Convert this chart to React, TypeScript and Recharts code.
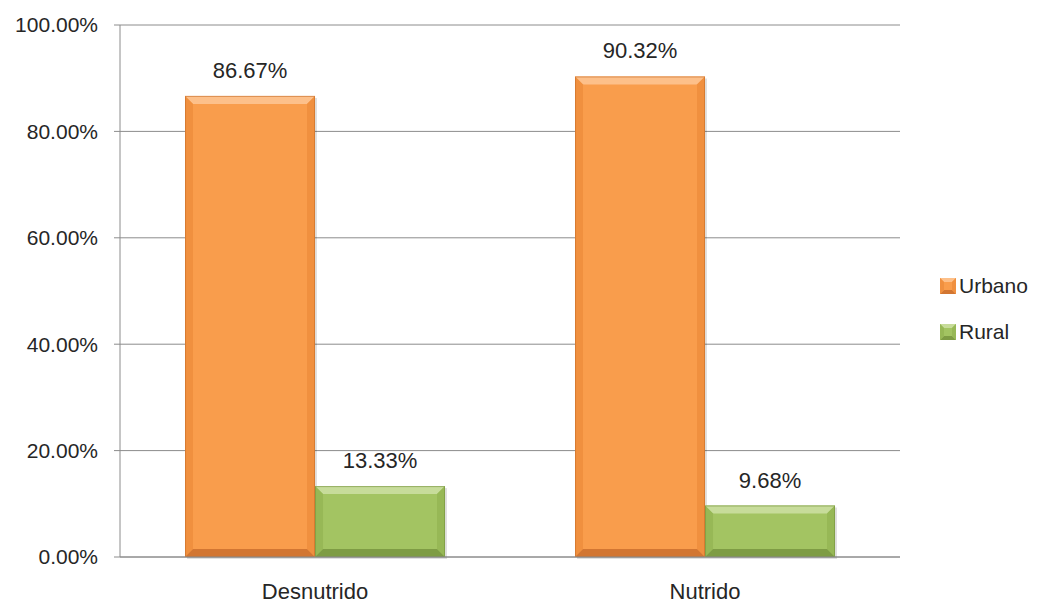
import React from "react";
import { BarChart, Bar, XAxis, YAxis, CartesianGrid, LabelList, Legend } from "recharts";

const categories = ["Desnutrido", "Nutrido"];
const urbano = [86.67, 90.32];
const rural = [13.33, 9.68];
const yTicks = [0, 20, 40, 60, 80, 100];
const seriesNames = ["Urbano", "Rural"];

const data = categories.map((c, i) => ({ name: c, Urbano: urbano[i], Rural: rural[i] }));

const palettes: Record<string, { base: string; top: string; side: string; bottom: string; edge: string }> = {
  Urbano: { base: "#F99D4C", top: "#FDC08A", side: "#F0903F", bottom: "#D27632", edge: "#C66C2A" },
  Rural: { base: "#A3C462", top: "#C7DC9A", side: "#97B856", bottom: "#7E9C44", edge: "#76933D" },
};

const BevelBar = (props: any) => {
  const { x, y, width, height, dataKey } = props;
  const p = palettes[dataKey] || palettes.Urbano;
  if (!height || height <= 0) return null;
  const b = Math.min(8, height / 2, width / 2);
  const r = x + width;
  const bt = y + height;
  return (
    <g>
      <rect x={x + 2} y={y + 2} width={width} height={height} fill="rgba(0,0,0,0.12)" />
      <rect x={x} y={y} width={width} height={height} fill={p.base} />
      <polygon points={`${x},${y} ${r},${y} ${r - b},${y + b} ${x + b},${y + b}`} fill={p.top} />
      <polygon points={`${x},${y} ${x + b},${y + b} ${x + b},${bt - b} ${x},${bt}`} fill={p.side} />
      <polygon points={`${r},${y} ${r},${bt} ${r - b},${bt - b} ${r - b},${y + b}`} fill={p.side} />
      <polygon points={`${x},${bt} ${x + b},${bt - b} ${r - b},${bt - b} ${r},${bt}`} fill={p.bottom} />
      <rect x={x + 0.5} y={y + 0.5} width={width - 1} height={height - 1} fill="none" stroke={p.edge} strokeWidth={1} strokeOpacity={0.6} />
    </g>
  );
};

const LegendContent = () => (
  <div style={{ fontFamily: "Liberation Sans, Arial, sans-serif", fontSize: 21, color: "#262626" }}>
    {seriesNames.map((n) => {
      const p = palettes[n];
      return (
        <div key={n} style={{ display: "flex", alignItems: "center", height: 46 }}>
          <svg width={16} height={16} style={{ marginRight: 3 }}>
            <rect x={0} y={0} width={16} height={16} fill={p.base} />
            <polygon points="0,0 16,0 12,4 4,4" fill={p.top} />
            <polygon points="0,16 4,12 12,12 16,16" fill={p.bottom} />
            <polygon points="0,0 4,4 4,12 0,16" fill={p.side} />
            <polygon points="16,0 16,16 12,12 12,4" fill={p.side} />
          </svg>
          <span>{n}</span>
        </div>
      );
    })}
  </div>
);

export default function App() {
  const font = "Liberation Sans, Arial, sans-serif";
  return (
    <div style={{ position: "absolute", left: 0, top: 0, width: 1039, height: 603, background: "#fff" }}>
      <BarChart
        width={1039}
        height={603}
        data={data}
        margin={{ top: 25, right: 139, left: 0, bottom: 16 }}
        barCategoryGap="16.67%"
        barGap={0}
      >
        <CartesianGrid vertical={false} stroke="#8C8C8C" strokeWidth={1} />
        <XAxis
          xAxisId="grid"
          type="number"
          domain={[0, 2]}
          ticks={[0, 1, 2]}
          height={0}
          axisLine={false}
          tickSize={10}
          tickLine={{ stroke: "#8C8C8C" }}
          tickFormatter={() => ""}
        />
        <XAxis
          dataKey="name"
          height={30}
          tickLine={false}
          axisLine={{ stroke: "#8C8C8C" }}
          tickSize={6}
          tickMargin={20}
          fontSize={22}
          tick={{ fontFamily: font, fontSize: 22, fill: "#262626" }}
        />
        <YAxis
          width={120}
          domain={[0, 100]}
          ticks={yTicks}
          tickFormatter={(v: number) => v.toFixed(2) + "%"}
          axisLine={{ stroke: "#8C8C8C" }}
          tickLine={{ stroke: "#8C8C8C" }}
          tickSize={6}
          tickMargin={16}
          fontSize={21}
          tick={{ fontFamily: font, fontSize: 21, fill: "#262626" }}
        />
        <Legend
          layout="vertical"
          align="center"
          verticalAlign="middle"
          wrapperStyle={{ left: 940, top: 263, width: 99 }}
          content={<LegendContent />}
        />
        <Bar dataKey="Urbano" fill="#F99D4C" shape={<BevelBar />} isAnimationActive={false}>
          <LabelList
            dataKey="Urbano"
            position="top"
            offset={18}
            formatter={(v: any) => Number(v).toFixed(2) + "%"}
            style={{ fontFamily: font, fontSize: 22, fill: "#262626" }}
          />
        </Bar>
        <Bar dataKey="Rural" fill="#A3C462" shape={<BevelBar />} isAnimationActive={false}>
          <LabelList
            dataKey="Rural"
            position="top"
            offset={18}
            formatter={(v: any) => Number(v).toFixed(2) + "%"}
            style={{ fontFamily: font, fontSize: 22, fill: "#262626" }}
          />
        </Bar>
      </BarChart>
    </div>
  );
}
